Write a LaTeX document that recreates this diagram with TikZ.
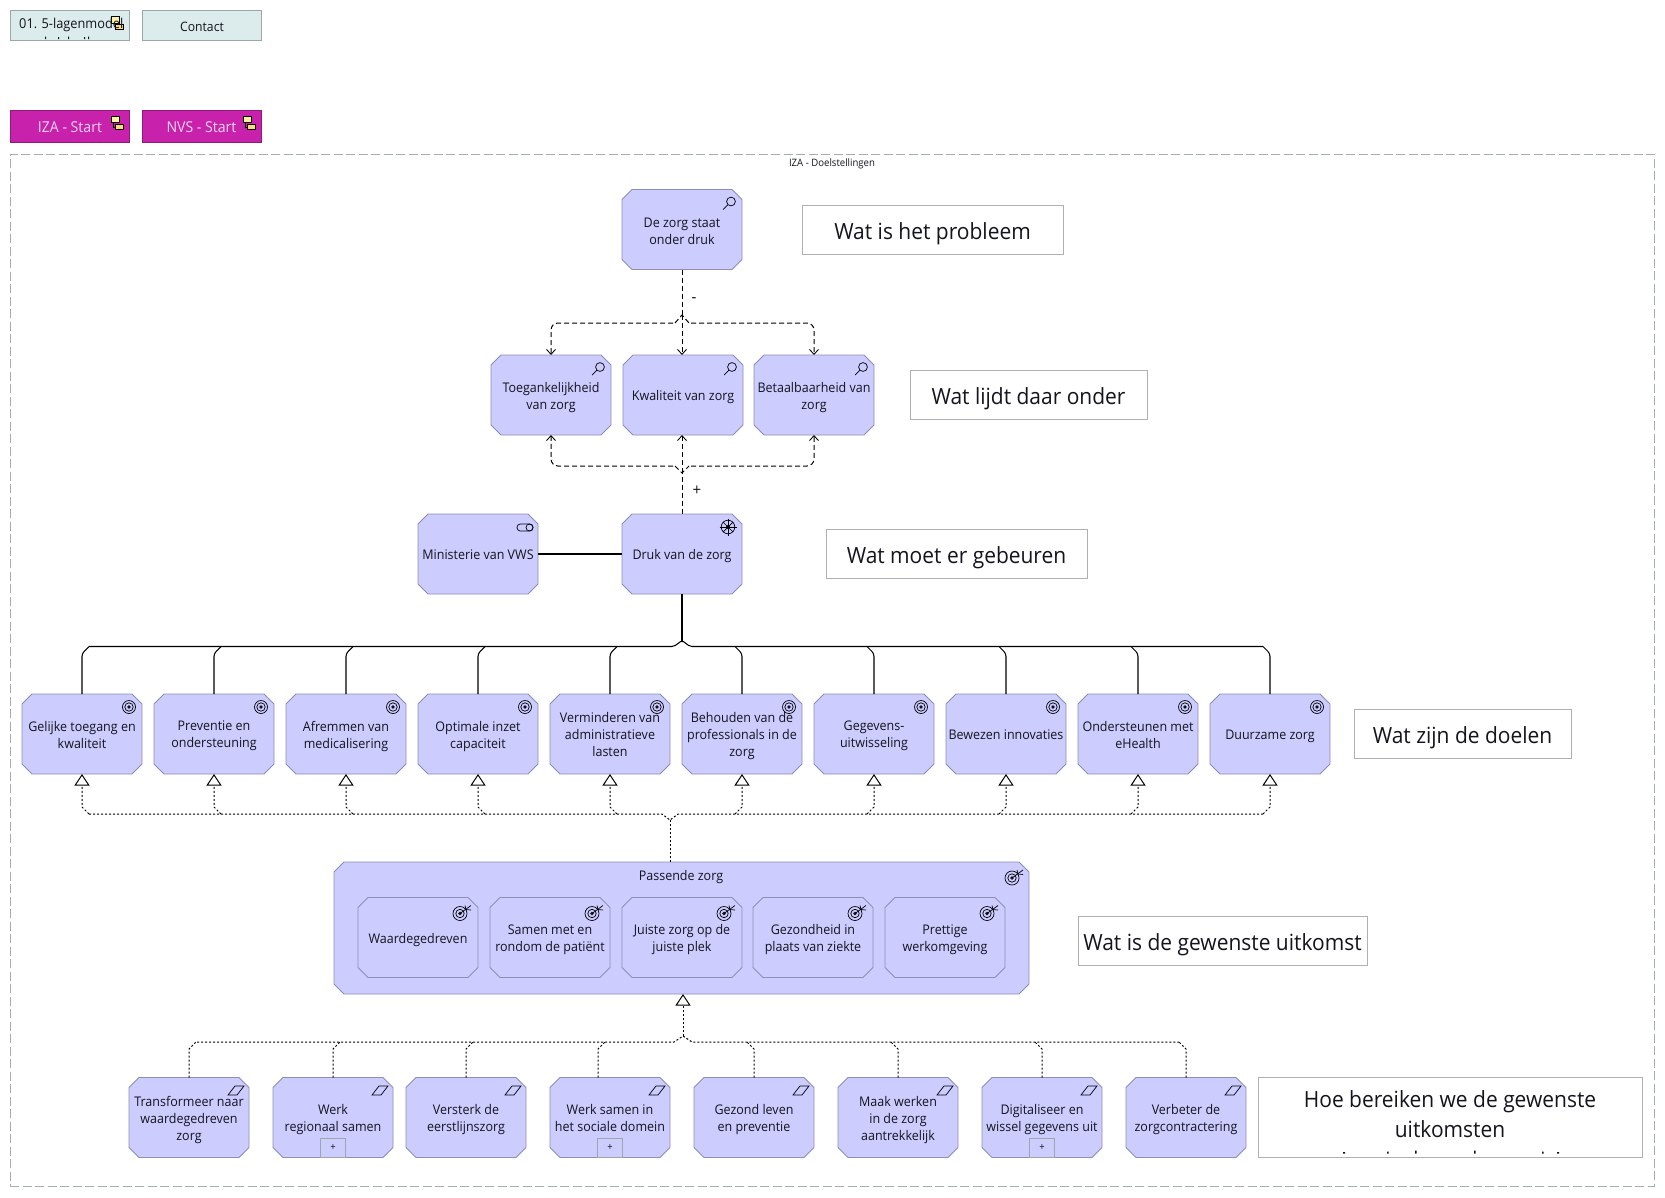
\documentclass[tikz,border=0pt]{standalone}
\usepackage{fontspec}
\setmainfont[FakeStretch=0.94]{Open Sans}
\usetikzlibrary{arrows.meta,calc}
\definecolor{elfill}{HTML}{CCCCFF}
\definecolor{eldraw}{HTML}{8E8EB4}
\definecolor{navfill}{HTML}{DCEBEB}
\definecolor{navdraw}{HTML}{9AA8A8}
\definecolor{magfill}{HTML}{C822AC}
\definecolor{magdraw}{HTML}{8E1A7C}
\definecolor{magtext}{HTML}{F2D6F0}
\definecolor{framedraw}{HTML}{A3AEAE}
\definecolor{notedraw}{HTML}{B0B0B0}
\definecolor{yel1}{HTML}{FFF4A6}
\definecolor{yel2}{HTML}{FFD97F}
\definecolor{ink}{HTML}{14141E}
\tikzset{
  x=1pt,y=-1pt,
  elbox/.style={rectangle,inner sep=0pt,outer sep=0pt,minimum width=120pt,minimum height=80pt},
  eltext/.style={inner sep=0pt,align=center,text=ink,font=\fontsize{13.3}{17}\selectfont},
  elshape/.style={draw=eldraw,fill=elfill,line width=0.9pt},
  navbox/.style={rectangle,draw=navdraw,fill=navfill,line width=0.9pt,minimum width=119.5pt,minimum height=30.5pt,inner sep=0pt},
  magbox/.style={rectangle,draw=magdraw,fill=magfill,line width=0.9pt,minimum width=119.5pt,minimum height=32.5pt,inner sep=0pt},
  navtext/.style={inner sep=0pt,text=ink,font=\fontsize{13}{17}\selectfont},
  magtxt/.style={inner sep=0pt,text=magtext,font=\fontsize{15}{17}\selectfont},
  note/.style={rectangle,draw=notedraw,fill=white,line width=0.9pt,inner sep=0pt},
  notetext/.style={inner sep=0pt,align=center,text=ink,font=\fontsize{22.3}{30}\selectfont},
  btn/.style={rectangle,draw=navdraw,fill=elfill,line width=0.9pt,minimum width=24.5pt,minimum height=19pt,inner sep=0pt,
    text=ink,font=\fontsize{10}{10}\selectfont},
  dashline/.style={black,line width=1pt,dash pattern=on 5pt off 3pt},
  dotline/.style={black,line width=1pt,dash pattern=on 2pt off 2pt},
  solidline/.style={black,line width=1.05pt},
  openv/.style={-{Straight Barb[length=5pt,width=9pt,line width=0.85pt]}},
  realize/.style={-{Triangle[open,fill=white,length=11.5pt,width=15pt,line width=1pt]}},
  icon/.style={black,line width=0.7pt},
}
\newcommand\atne[2]{\begin{scope}[shift={(#1.north east)}]#2\end{scope}}
\newcommand\imag[1]{\atne{#1}{\draw[icon] (-11,12) circle (4.4);\draw[icon] (-14.2,15.2) -- (-19,20);}}
\newcommand\igoal[1]{\atne{#1}{\draw[icon] (-13,13) circle (6.5);\draw[icon] (-13,13) circle (4.2);\fill[ink] (-13,13) circle (1.8);}}
\newcommand\ioutc[2][-18]{\atne{#2}{\begin{scope}[shift={(#1,16)}]\draw[icon] (0,0) circle (7);\draw[icon] (0,0) circle (4.2);\fill[ink] (0,0) circle (1.8);
  \draw[icon] (0,0) -- (11,-8);\draw[icon] (5,-8) -- (6,-4) -- (11,-3.5);\end{scope}}}
\newcommand\icoa[1]{\atne{#1}{\draw[icon] (-21,17.5) -- (-14,8.5) -- (-5,8.5) -- (-12,17.5) -- cycle;}}
\newcommand\idriver[1]{\atne{#1}{\begin{scope}[shift={(-14,13)}]\draw[icon] (0,0) circle (6.8);\fill[ink] (0,0) circle (2);
  \draw[icon] (-8.5,0) -- (8.5,0);\draw[icon] (0,-8.5) -- (0,8.5);\draw[icon] (-5,-5) -- (5,5);\draw[icon] (-5,5) -- (5,-5);\end{scope}}}
\newcommand\irole[1]{\atne{#1}{\draw[icon,rounded corners=3.3pt] (-21,10) rectangle (-5,17);\draw[icon] (-8.5,13.5) circle (3.5);}}
\newcommand\isub[2]{\begin{scope}[shift={(#1,#2)}]
  \draw[icon] (1.7,4) |- (5.7,10.5);
  \draw[icon,fill=yel1] (0,0) rectangle (7.7,5.4);
  \draw[icon,fill=yel2] (3.7,7.6) rectangle (11.7,12.8);\end{scope}}
\newcommand\shapeof[3]{\begin{scope}[shift={(#1)}]
  \draw[elshape] ({-#2/2+10},{-#3/2}) -- ({#2/2-10},{-#3/2}) -- ({#2/2},{-#3/2+10}) -- ({#2/2},{#3/2-10}) -- ({#2/2-10},{#3/2}) -- ({-#2/2+10},{#3/2}) -- ({-#2/2},{#3/2-10}) -- ({-#2/2},{-#3/2+10}) -- cycle;
  \end{scope}}
\newcommand\el[3]{\shapeof{#2}{120}{80}\node[elbox] (#1) at (#2) {};\node[eltext] (#1t) at ($(#2)+(0,2.2)$) {#3};}
\newcommand\notebox[5]{\node[note,minimum width=#4pt,minimum height=49.5pt] (#1) at (#2,#3) {};\node[notetext] (#1t) at ($(#2,#3)+(0,4)$) {#5};}
\newcommand\dsc{\vphantom{g}}
\begin{document}
\begin{tikzpicture}
\useasboundingbox (0,0) rectangle (1665,1197);
\fill[white] (0,0) rectangle (1665,1197);
% frame
\node[inner sep=0pt,minimum width=1644pt,minimum height=1032pt,draw=framedraw,line width=0.9pt,dash pattern=on 9pt off 3.5pt] (frame) at (832,670) {};
\node[inner sep=0pt,text=ink,font=\fontsize{10.2}{11}\selectfont] (frametitle) at (832,163.5) {IZA - Doelstellingen};
% nav buttons
\node[navbox] (n1) at (69.75,25.25) {};
\draw[icon,fill=yel1] (111.7,16.7) rectangle (119.3,23.7);
\draw[icon,fill=yel2] (115.7,24) rectangle (123.7,29.3);
\begin{scope}
\clip (10.5,10.5) rectangle (129,40);
\node[navtext,font=\fontsize{13.6}{17}\selectfont,anchor=west] (n1t) at (19,25) {01. 5-lagenmodel};
\fill[ink] (45,36.5) rectangle (46,39) (58,37) rectangle (59,39) (68,36.5) rectangle (69,39) (84,37) rectangle (85,39) (88,36.5) rectangle (89,39);
\end{scope}
\node[navbox] (n2) at (201.75,25.25) {};
\node[navtext] (n2t) at (202,27) {Contact};
\node[magbox] (m1) at (69.75,126.25) {};
\node[magtxt] (m1t) at (70,127.5) {IZA - Start};
\node[magbox] (m2) at (201.75,126.25) {};
\node[magtxt] (m2t) at (201.5,127.5) {NVS - Start};
\isub{111.7}{116.7}
\isub{243.7}{116.7}
% problem row
\el{de}{682,229.5}{De zorg staat\\onder druk}
\el{toeg}{551,395}{Toegankelijkheid\\van zorg}
\el{kwal}{683,395}{Kwaliteit van zorg}
\el{betaal}{814,395}{Betaalbaarheid van\\zorg}
\el{min}{478,554}{Ministerie van VWS\dsc}
\el{druk}{682,554}{Druk van de zorg}
\imag{de}\imag{toeg}\imag{kwal}\imag{betaal}
\irole{min}\idriver{druk}
% goals
\el{g1}{82,734}{Gelijke toegang en\\kwaliteit\dsc}
\el{g2}{214,734}{Preventie en\\ondersteuning}
\el{g3}{346,734}{Afremmen van\\medicalisering}
\el{g4}{478,734}{Optimale inzet\\capaciteit}
\el{g5}{610,734}{Verminderen van\\administratieve\\lasten\dsc}
\el{g6}{742,734}{Behouden van de\\professionals in de\\zorg}
\el{g7}{874,734}{Gegevens-\\uitwisseling}
\el{g8}{1006,734}{Bewezen innovaties\dsc}
\el{g9}{1138,734}{Ondersteunen met\\eHealth\dsc}
\el{g10}{1270,734}{Duurzame zorg}
\foreach \g in {g1,g2,g3,g4,g5,g6,g7,g8,g9,g10}{\igoal{\g}}
% outcome group
\shapeof{681.5,928}{695}{132}
\node[elbox,minimum width=695pt,minimum height=132pt] (pz) at (681.5,928) {};
\node[eltext] (pzt) at (681,877) {Passende zorg};
\ioutc[-17]{pz}
\el{o1}{418,937.5}{Waardegedreven}
\el{o2}{550,937.5}{Samen met en\\rondom de patiënt}
\el{o3}{682,937.5}{Juiste zorg op de\\juiste plek}
\el{o4}{813,937.5}{Gezondheid in\\plaats van ziekte}
\el{o5}{945,937.5}{Prettige\\werkomgeving}
\foreach \g in {o1,o2,o3,o4,o5}{\ioutc{\g}}
% course of action
\el{c1}{189,1117.5}{Transformeer naar\\waardegedreven\\zorg}
\el{c2}{333,1117.5}{Werk\\regionaal samen}
\el{c3}{466,1117.5}{Versterk de\\eerstlijnszorg}
\el{c4}{610,1117.5}{Werk samen in\\het sociale domein\dsc}
\el{c5}{754,1117.5}{Gezond leven\\en preventie}
\el{c6}{898,1117.5}{Maak werken\\in de zorg\\aantrekkelijk}
\el{c7}{1042,1117.5}{Digitaliseer en\\wissel gegevens uit}
\el{c8}{1186,1117.5}{Verbeter de\\zorgcontractering}
\foreach \g in {c1,c2,c3,c4,c5,c6,c7,c8}{\icoa{\g}}
\node[btn,anchor=south] (b2) at (c2.south) {+};
\node[btn,anchor=south] (b4) at (c4.south) {+};
\node[btn,anchor=south] (b7) at (c7.south) {+};
% notes
\notebox{t1}{932.5}{230}{261}{Wat is het probleem}
\notebox{t2}{1028.5}{395}{237}{Wat lijdt daar onder}
\notebox{t3}{956.5}{554}{261}{Wat moet er gebeuren}
\notebox{t4}{1462.5}{734}{217}{Wat zijn de doelen}
\notebox{t5}{1222.5}{941}{289}{Wat is de gewenste uitkomst}
\node[note,minimum width=384pt,minimum height=79.5pt] (t6) at (1450,1117.5) {};
\node[notetext,anchor=north] (t6t) at (1450,1090.5) {Hoe bereiken we de gewenste\\uitkomsten};
\fill[ink] (1343,1152) rectangle (1345,1153.5) (1387,1151.5) rectangle (1388.5,1153.5) (1415,1150.5) rectangle (1416.5,1153.5) (1474,1150.5) rectangle (1475.5,1153.5) (1542,1151.5) rectangle (1543.5,1153.5) (1557,1152) rectangle (1559,1153.5);
% problem connectors
\coordinate (ja) at (682,315);
\draw[dashline] (de.south) -- (ja);
\draw[dashline,openv] (ja) -- (kwal.north -| ja);
\draw[dashline] (675,323) -- (ja) -- (689,323);
\draw[dashline,openv,rounded corners=7pt] (673,323) -| (toeg.north);
\draw[dashline,openv,rounded corners=7pt] (691,323) -| (betaal.north);
\coordinate (jc) at (682,473);
\draw[dashline] (druk.north) -- (jc);
\draw[dashline,openv] (jc) -- (kwal.south -| jc);
\draw[dashline] (675,466) -- (jc) -- (689,466);
\draw[dashline,openv,rounded corners=7pt] (673,466) -| (toeg.south);
\draw[dashline,openv,rounded corners=7pt] (691,466) -| (betaal.south);
\node[inner sep=0pt,text=ink,font=\fontsize{16}{16}\selectfont] (lm) at (694,300.5) {-};
\node[inner sep=0pt,text=ink,font=\fontsize{16}{16}\selectfont] (lp) at (697,491) {+};
\draw[solidline] (min.east) -- (druk.west);
% goal bus
\coordinate (jd) at (682,640.5);
\draw[solidline] (druk.south) -- (jd);
\draw[solidline,rounded corners=2pt] (89,646.5) -- (674,646.5) -- (jd) -- (690,646.5) -- (1263,646.5);
\foreach \g in {g1,g2,g3,g4,g5}{\draw[solidline,rounded corners=3pt] (\g.north) -- ($(\g.north |- jd)+(0,13)$) -- ($(\g.north |- jd)+(7,6)$);}
\foreach \g in {g6,g7,g8,g9,g10}{\draw[solidline,rounded corners=3pt] (\g.north) -- ($(\g.north |- jd)+(0,13)$) -- ($(\g.north |- jd)+(-7,6)$);}
% realization up to goals
\coordinate (je) at (670,820);
\draw[dotline] (pz.north -| je) -- (je);
\draw[dotline] (89,814) -- (662,814) -- (je) -- (678,814) -- (1263,814);
\foreach \g in {g1,g2,g3,g4,g5}{\draw[dotline,realize] ($(\g.south |- je)+(7,-6)$) -- ($(\g.south |- je)+(0,-13)$) -- (\g.south);}
\foreach \g in {g6,g7,g8,g9,g10}{\draw[dotline,realize] ($(\g.south |- je)+(-7,-6)$) -- ($(\g.south |- je)+(0,-13)$) -- (\g.south);}
% realization up to outcomes
\coordinate (jf) at (683,1036);
\coordinate (pzb) at (683,994);
\draw[dotline,realize] (jf) -- (pzb);
\draw[dotline] (197,1042) -- (674,1042) -- (jf) -- (692,1042) -- (1179,1042);
\foreach \g in {c1,c2,c3}{\draw[dotline] (\g.north) -- ($(\g.north |- jf)+(0,13)$) -- ($(\g.north |- jf)+(7,6)$);}
\coordinate (c4n) at ($(c4.north)+(-12,0)$);
\draw[dotline] (c4n) -- ($(c4n |- jf)+(0,13)$) -- ($(c4n |- jf)+(7,6)$);
\foreach \g in {c5,c6,c7,c8}{\draw[dotline] (\g.north) -- ($(\g.north |- jf)+(0,13)$) -- ($(\g.north |- jf)+(-7,6)$);}
\end{tikzpicture}
\end{document}
